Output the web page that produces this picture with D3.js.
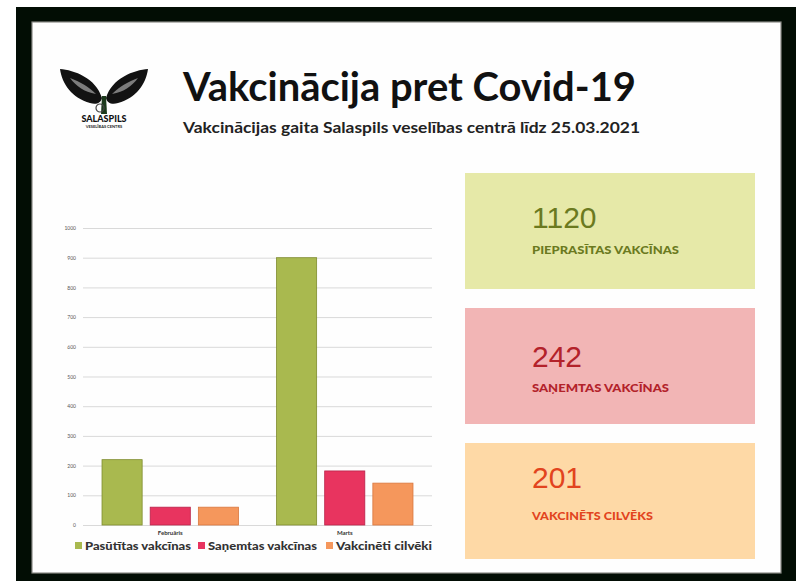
<!DOCTYPE html>
<html>
<head>
<meta charset="utf-8">
<script src="https://cdn.jsdelivr.net/npm/d3@7"></script>
<style>
  html, body { margin: 0; padding: 0; background: #ffffff; }
  svg { display: block; font-family: Lato, "Open Sans", sans-serif; }
</style>
</head>
<body>
<div id="chart"></div>
<script>
// ---------------------------//
//            DATA            //
// ---------------------------//
var categories = ["Februāris", "Marts"];
var seriesNames = ["Pasūtītas vakcīnas", "Saņemtas vakcīnas", "Vakcinēti cilvēki"];
var pasutitas = [220, 900];
var sanemtas = [60, 182];
var vakcineti = [60, 141];
var yTicks = [0, 100, 200, 300, 400, 500, 600, 700, 800, 900, 1000];

var cardValues = ["1120", "242", "201"];
var cardLabels = ["PIEPRASĪTAS VAKCĪNAS", "SAŅEMTAS VAKCĪNAS", "VAKCINĒTS CILVĒKS"];

var seriesColors = ["#a9b94f", "#e8345f", "#f5975c"];
var seriesStroke = ["#7f8c2e", "#b8234a", "#d9773e"];
var cardFill = ["#e6e9a8", "#f2b5b5", "#fed9a6"];
var cardText = ["#6b7a1f", "#b3222a", "#e2441e"];

// ---------------------------//
//         DIMENSIONS         //
// ---------------------------//
var width = 808;
var height = 581;
var plot = { left: 83, right: 432, top: 228, bottom: 525 };

var svg = d3.select("#chart")
  .append("svg")
  .attr("width", width)
  .attr("height", height)
  .attr("viewBox", [0, 0, width, height]);

// ---------------------------//
//            FRAME           //
// ---------------------------//
svg.append("rect")
  .attr("x", 16).attr("y", 7)
  .attr("width", 780).attr("height", 574)
  .attr("fill", "#020d04");

svg.append("rect")
  .attr("x", 32).attr("y", 22)
  .attr("width", 749).attr("height", 551)
  .attr("fill", "#fefefe")
  .attr("stroke", "#8a8a86")
  .attr("stroke-width", 1.2);

// ---------------------------//
//            LOGO            //
// ---------------------------//
var logo = svg.append("g").attr("transform", "translate(104,100)");
// left wing leaf
logo.append("path")
  .attr("d", "M-2,-2 C-8,-22 -30,-30 -44,-31 C-42,-16 -32,-2 -14,3 C-8,5 -3,3 -2,-2 Z")
  .attr("fill", "#121212");
logo.append("path")
  .attr("d", "M-8,-6 C-16,-14 -24,-18 -34,-22 C-28,-14 -20,-8 -8,-6 Z")
  .attr("fill", "#ffffff").attr("opacity", 0.45);
// right wing leaf
logo.append("path")
  .attr("d", "M2,-2 C8,-22 30,-30 44,-31 C42,-16 32,-2 14,3 C8,5 3,3 2,-2 Z")
  .attr("fill", "#121212");
logo.append("path")
  .attr("d", "M8,-6 C16,-14 24,-18 34,-22 C28,-14 20,-8 8,-6 Z")
  .attr("fill", "#ffffff").attr("opacity", 0.45);
// stem
logo.append("path")
  .attr("d", "M-2,-4 L2,-4 L3,14 L-3,14 Z")
  .attr("fill", "#1c3a1c");
logo.append("circle")
  .attr("cx", -4).attr("cy", 8).attr("r", 4)
  .attr("fill", "none").attr("stroke", "#444").attr("stroke-width", 1.2);
logo.append("text")
  .attr("x", 0).attr("y", 22)
  .attr("text-anchor", "middle")
  .style("font-size", "9px").style("font-weight", 900)
  .attr("fill", "#111")
  .text("SALASPILS");
logo.append("text")
  .attr("x", 0).attr("y", 28)
  .attr("text-anchor", "middle")
  .style("font-size", "4px").style("font-weight", 700)
  .attr("fill", "#222")
  .text("VESELĪBAS CENTRS");

// ---------------------------//
//            TITLE           //
// ---------------------------//
svg.append("text")
  .attr("x", 183).attr("y", 101)
  .style("font-size", "40px").style("font-weight", 700)
  .attr("textLength", 453).attr("lengthAdjust", "spacingAndGlyphs")
  .attr("fill", "#111")
  .text("Vakcinācija pret Covid-19");

svg.append("text")
  .attr("x", 183).attr("y", 133)
  .style("font-size", "16px").style("font-weight", 700)
  .attr("textLength", 457).attr("lengthAdjust", "spacingAndGlyphs")
  .attr("fill", "#222")
  .text("Vakcinācijas gaita Salaspils veselības centrā līdz 25.03.2021");

// ---------------------------//
//       AXIS  AND SCALE      //
// ---------------------------//
var x0 = d3.scaleBand()
  .domain(categories)
  .range([plot.left, plot.right])
  .paddingInner(0.218)
  .paddingOuter(0.109);

var x1 = d3.scaleBand()
  .domain(seriesNames)
  .range([0, x0.bandwidth()])
  .paddingInner(0.167);

var y = d3.scaleLinear()
  .domain([0, 1000])
  .range([plot.bottom, plot.top]);

var yAxis = svg.append("g")
  .attr("transform", "translate(" + plot.left + ",0)")
  .call(d3.axisLeft(y).tickValues(yTicks).tickFormat(d3.format("d"))
    .tickSize(-(plot.right - plot.left)).tickPadding(7));

yAxis.select(".domain").remove();
yAxis.selectAll(".tick line").attr("stroke", "#d9d9d9").attr("stroke-width", 1);
yAxis.selectAll(".tick text")
  .attr("fill", "#555")
  .style("font-size", "5px")
  .style("font-family", "Lato, sans-serif");

var xAxis = svg.append("g")
  .attr("transform", "translate(0," + plot.bottom + ")")
  .call(d3.axisBottom(x0).tickSize(0).tickPadding(6));
xAxis.select(".domain").remove();
xAxis.selectAll(".tick text")
  .attr("fill", "#333")
  .style("font-size", "6px")
  .style("font-weight", 700)
  .style("font-family", "Lato, sans-serif");

// ---------------------------//
//            BARS            //
// ---------------------------//
var seriesValues = [pasutitas, sanemtas, vakcineti];
var rows = [];
categories.forEach(function(c, i) {
  seriesNames.forEach(function(s, j) {
    rows.push({ cat: c, series: s, idx: j, value: seriesValues[j][i] });
  });
});

svg.append("g").selectAll("rect")
  .data(rows)
  .enter()
  .append("rect")
  .attr("x", function(d) { return x0(d.cat) + x1(d.series); })
  .attr("y", function(d) { return y(d.value); })
  .attr("width", x1.bandwidth())
  .attr("height", function(d) { return y(0) - y(d.value); })
  .attr("fill", function(d) { return seriesColors[d.idx]; })
  .attr("stroke", function(d) { return seriesStroke[d.idx]; })
  .attr("stroke-width", 0.8);

// ---------------------------//
//           LEGEND           //
// ---------------------------//
var legendX = [75, 198, 326];
var legendW = [106, 109, 96];
var legend = svg.append("g").selectAll("g")
  .data(seriesNames)
  .enter()
  .append("g")
  .attr("transform", function(d, i) { return "translate(" + legendX[i] + ",546)"; });

legend.append("rect")
  .attr("x", 0).attr("y", -4)
  .attr("width", 7).attr("height", 7)
  .attr("fill", function(d, i) { return seriesColors[i]; });

legend.append("text")
  .attr("x", 10).attr("y", 4)
  .style("font-size", "12px").style("font-weight", 900)
  .attr("textLength", function(d, i) { return legendW[i]; })
  .attr("lengthAdjust", "spacingAndGlyphs")
  .attr("fill", "#333")
  .text(function(d) { return d; });

// ---------------------------//
//            CARDS           //
// ---------------------------//
var cardY = [173, 308, 443];
var labelW = [147, 137, 121];
var cards = svg.append("g").selectAll("g")
  .data(cardValues)
  .enter()
  .append("g")
  .attr("transform", function(d, i) { return "translate(465," + cardY[i] + ")"; });

cards.append("rect")
  .attr("width", 290).attr("height", 116)
  .attr("fill", function(d, i) { return cardFill[i]; });

cards.append("text")
  .attr("x", 67)
  .attr("y", function(d, i) { return [55, 59, 45][i]; })
  .style("font-size", "30px")
  .style("font-family", "'Liberation Sans', Arial, sans-serif")
  .attr("fill", function(d, i) { return cardText[i]; })
  .text(function(d) { return d; });

cards.append("text")
  .attr("x", 67)
  .attr("y", function(d, i) { return [81, 84, 77][i]; })
  .style("font-size", "11px").style("font-weight", 900)
  .attr("textLength", function(d, i) { return labelW[i]; })
  .attr("lengthAdjust", "spacingAndGlyphs")
  .attr("fill", function(d, i) { return cardText[i]; })
  .text(function(d, i) { return cardLabels[i]; });
</script>
</body>
</html>
